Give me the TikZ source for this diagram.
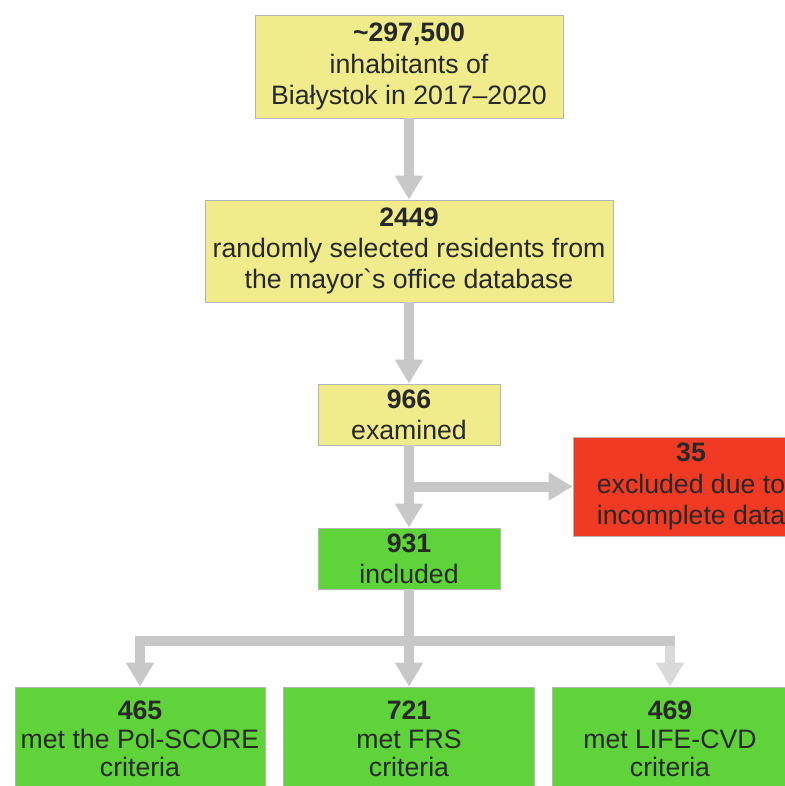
\documentclass[tikz,border=0pt]{standalone}
\usepackage{fontspec}
\setmainfont{Liberation Sans}
\usetikzlibrary{arrows.meta}
\definecolor{boxyellow}{RGB}{240,236,140}
\definecolor{boxred}{RGB}{240,58,36}
\definecolor{boxgreen}{RGB}{94,212,58}
\definecolor{boxedge}{RGB}{180,180,180}
\definecolor{flowgray}{RGB}{200,200,200}
\definecolor{flowlight}{RGB}{218,218,218}
\definecolor{txt}{RGB}{40,40,40}
\tikzset{
  stagebox/.style={draw=boxedge, line width=0.6pt, inner sep=0pt, align=center,
    text=txt, font=\fontsize{20}{23.5}\selectfont},
  yel/.style={stagebox, fill=boxyellow},
  redbox/.style={stagebox, fill=boxred},
  grn/.style={stagebox, fill=boxgreen},
  critbox/.style={grn, minimum height=78pt, font=\fontsize{20}{21.5}\selectfont},
  flow/.style={draw=flowgray, line width=7.5pt,
    -{Triangle[width=20pt,length=18pt]}},
}
\begin{document}
\begin{tikzpicture}[x=0.75pt,y=-0.75pt]
\useasboundingbox (0,0) rectangle (785,786);
\clip (0,0) rectangle (785,786);
% stages
\node[yel, minimum width=231pt, minimum height=77.25pt] (pop) at (409,66.5)
  {\textbf{\textasciitilde297,500}\\inhabitants of\\Białystok in 2017--2020};
\node[yel, minimum width=306pt, minimum height=76.5pt] (sel) at (409,251)
  {\textbf{2449}\\randomly selected residents from\\the mayor\textasciigrave s office database};
\node[yel, minimum width=136.5pt, minimum height=45.75pt] (exam) at (409,414.5)
  {\textbf{966}\\examined};
\node[redbox, minimum width=177pt, minimum height=74.25pt] (excl) at (691,486.5)
  {\textbf{35}\\excluded due to\\incomplete data};
\node[grn, minimum width=136.5pt, minimum height=45.75pt] (incl) at (409,558.5)
  {\textbf{931}\\included};
% criteria
\node[critbox, minimum width=187.5pt] (pol) at (140,739)
  {\textbf{465}\\met the Pol-SCORE\\criteria};
\node[critbox, minimum width=188.25pt] (frs) at (409,739)
  {\textbf{721}\\met FRS\\criteria};
\node[critbox, minimum width=177pt] (life) at (670,739)
  {\textbf{469}\\met LIFE-CVD\\criteria};
\coordinate (split) at (409,641);
% arrows
\draw[flow] (pop) -- (sel);
\draw[flow] (sel) -- (exam);
\draw[flow] (exam) -- (incl);
\draw[flow] (exam.south |- excl.west) -- (excl.west);
\draw[flow] (incl) -- (frs);
\draw[flow] (split) -| (pol.north);
\draw[flow, -] (split) -- ([xshift=3.75pt]split -| life.north);
\draw[flow, draw=flowlight] ([yshift=-3.75pt]split -| life.north) -- (life.north);
\end{tikzpicture}
\end{document}
